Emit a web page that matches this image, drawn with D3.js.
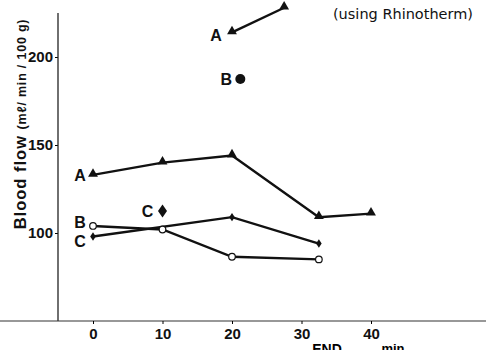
<!DOCTYPE html>
<html><head><meta charset="utf-8">
<script src="https://cdn.jsdelivr.net/npm/d3@7"></script>
<style>body{margin:0;background:#fff}svg{display:block}</style>
</head><body>
<script>
const xTicks = [0, 10, 20, 30, 40];
const yTicks = [100, 150, 200];
const seriesA = [[0,133],[10,140],[20,144],[32.5,109],[40,111]];
const seriesB = [[0,104],[10,102],[20,86.5],[32.5,85]];
const seriesC = [[0,98],[20,109],[32.5,94]];
const seriesATop = [[20,214],[27.5,228]];
const pointBTop = [[21.2,187.5]];
const pointCTop = [[10,112.5]];

const W = 486, H = 350;
const svg = d3.select("body").append("svg").attr("width", W).attr("height", H);
const x = d3.scaleLinear().domain([0, 40]).range([93, 371]);
const y = d3.scaleLinear().domain([50, 200]).range([321, 57]);

// y axis
const yAxis = svg.append("g").attr("transform", "translate(58,0)")
  .call(d3.axisLeft(y).tickValues(yTicks).tickSize(3).tickPadding(2));
yAxis.select(".domain").remove();
svg.append("line").attr("x1",58).attr("x2",58).attr("y1",13).attr("y2",321)
  .attr("stroke","#222").attr("stroke-width",1.3);
yAxis.selectAll("text").attr("font-family","Liberation Sans Narrow, Arial Narrow, Liberation Sans, sans-serif")
  .attr("font-weight","bold").attr("font-size",15).attr("fill","#111");

// x axis
svg.append("line").attr("x1",0).attr("x2",W).attr("y1",321).attr("y2",321)
  .attr("stroke","#333").attr("stroke-width",1.2);
const xAxis = svg.append("g").attr("transform","translate(0,321)")
  .call(d3.axisBottom(x).tickValues(xTicks).tickSize(3).tickPadding(4));
xAxis.select(".domain").remove();
xAxis.selectAll("text").attr("font-family","Liberation Sans Narrow, Arial Narrow, Liberation Sans, sans-serif")
  .attr("font-weight","bold").attr("font-size",15).attr("fill","#111");

svg.append("text").attr("x",327).attr("y",354).attr("text-anchor","middle")
  .attr("font-family","Liberation Sans, sans-serif").attr("font-weight","bold").attr("font-size",14).text("END");
svg.append("text").attr("x",393).attr("y",353).attr("text-anchor","middle")
  .attr("font-family","Liberation Sans, sans-serif").attr("font-weight","bold").attr("font-size",13).text("min");

// y label
const yl = svg.append("text").attr("transform","translate(26,124) rotate(-90)")
  .attr("text-anchor","middle").attr("font-family","Liberation Sans, sans-serif")
  .attr("font-weight","bold").attr("fill","#111");
yl.append("tspan").attr("font-size",16.5).attr("letter-spacing",1).text("Blood  flow ");
yl.append("tspan").attr("font-size",12.5).attr("letter-spacing",0.8).text("(mℓ/ min / 100 g)");

// title note
svg.append("text").attr("x",403).attr("y",19).attr("text-anchor","middle")
  .attr("font-family","DejaVu Sans, sans-serif").attr("font-size",14.5).attr("fill","#111")
  .text("(using Rhinotherm)");

const line = d3.line().x(d=>x(d[0])).y(d=>y(d[1]));
function drawLine(data){
  svg.append("path").datum(data).attr("d",line).attr("fill","none")
    .attr("stroke","#111").attr("stroke-width",2.4);
}
drawLine(seriesA); drawLine(seriesB); drawLine(seriesC); drawLine(seriesATop);

const tri = d3.symbol().type(d3.symbolTriangle).size(42);
function triangles(data){
  svg.append("g").selectAll("path").data(data).join("path")
    .attr("d",tri).attr("transform",d=>`translate(${x(d[0])},${y(d[1])-1})`).attr("fill","#111");
}
triangles(seriesA); triangles(seriesATop);

svg.append("g").selectAll("circle").data(seriesB).join("circle")
  .attr("cx",d=>x(d[0])).attr("cy",d=>y(d[1])).attr("r",3.3)
  .attr("fill","#fff").attr("stroke","#111").attr("stroke-width",1.2);

function diamond(cx, cy, w, h){
  return `M${cx},${cy-h}L${cx+w},${cy}L${cx},${cy+h}L${cx-w},${cy}Z`;
}
svg.append("g").selectAll("path").data(seriesC).join("path")
  .attr("d",d=>diamond(x(d[0]),y(d[1]),2.8,4.2)).attr("fill","#111");
svg.append("g").selectAll("path").data(pointCTop).join("path")
  .attr("d",d=>diamond(x(d[0]),y(d[1]),4.5,6.5)).attr("fill","#111");
svg.append("g").selectAll("circle").data(pointBTop).join("circle")
  .attr("cx",d=>x(d[0])).attr("cy",d=>y(d[1])).attr("r",5).attr("fill","#111");

// labels
const labels = [
  {t:"A", px:seriesA[0], dx:-13, dy:6},
  {t:"B", px:seriesB[0], dx:-13, dy:2},
  {t:"C", px:seriesC[0], dx:-13, dy:10},
  {t:"A", px:seriesATop[0], dx:-16, dy:9},
  {t:"B", px:pointBTop[0], dx:-14, dy:6},
  {t:"C", px:pointCTop[0], dx:-15, dy:6}
];
svg.append("g").selectAll("text").data(labels).join("text")
  .attr("x",d=>x(d.px[0])+d.dx).attr("y",d=>y(d.px[1])+d.dy)
  .attr("text-anchor","middle").attr("font-family","Liberation Sans, sans-serif")
  .attr("font-weight","bold").attr("font-size",16).attr("fill","#111").text(d=>d.t);
</script>
</body></html>
